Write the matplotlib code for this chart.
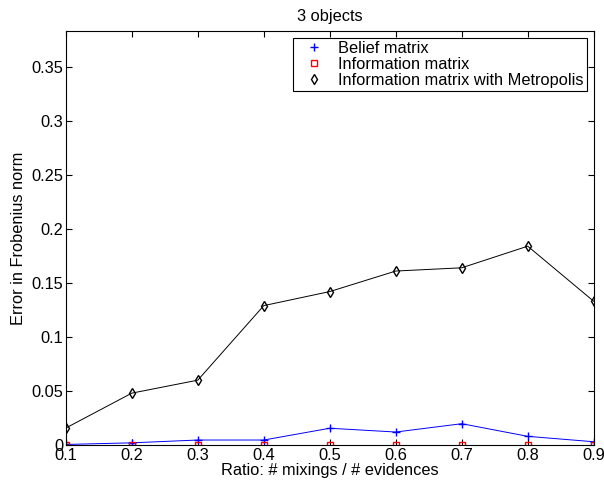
import matplotlib.pyplot as plt
from matplotlib.lines import Line2D

ratio = [0.1, 0.2, 0.3, 0.4, 0.5, 0.6, 0.7, 0.8, 0.9]
belief = [0.0005, 0.002, 0.0046, 0.0046, 0.0155, 0.012, 0.0197, 0.008, 0.003]
information = [0, 0, 0, 0, 0, 0, 0, 0, 0]
metropolis = [0.0157, 0.048, 0.060, 0.129, 0.142, 0.161, 0.164, 0.184, 0.133]

plt.rcParams['font.family'] = ['Liberation Sans', 'DejaVu Sans']
plt.rcParams['font.size'] = 11.8

fig = plt.figure(figsize=(6.04, 4.84), dpi=100)
ax = fig.add_axes([0.109, 0.0806, 0.874, 0.855])

ax.plot(ratio, belief, color='blue', marker='+', ms=6, lw=0.7)
ax.plot(ratio, information, color='red', marker='s', ms=4.5, mfc='none', lw=0.7)
ax.plot(ratio, metropolis, color='black', marker='d', ms=5.5, mfc='none', lw=0.7)

ax.set_xlim(0.1, 0.9)
ax.set_ylim(0, 0.383)
ax.set_xticks(ratio)
ax.set_xticklabels(['0.1', '0.2', '0.3', '0.4', '0.5', '0.6', '0.7', '0.8', '0.9'])
ax.set_yticks([0, 0.05, 0.1, 0.15, 0.2, 0.25, 0.3, 0.35])
ax.set_yticklabels(['0', '0.05', '0.1', '0.15', '0.2', '0.25', '0.3', '0.35'])
ax.tick_params(direction='in', top=True, right=True, length=4, pad=2)

ax.set_title('3 objects', fontsize=11.8, pad=7)
ax.set_xlabel('Ratio: # mixings / # evidences', labelpad=0)
ax.set_ylabel('Error in Frobenius norm', labelpad=4)

handles = [
    Line2D([], [], color='blue', marker='+', ls='none', ms=6),
    Line2D([], [], color='red', marker='s', ls='none', ms=4.5, mfc='none'),
    Line2D([], [], color='black', marker='d', ls='none', ms=5.5, mfc='none'),
]
labels = ['Belief matrix', 'Information matrix', 'Information matrix with Metropolis']
leg = ax.legend(handles, labels, loc='upper right', fancybox=False, edgecolor='black',
                framealpha=1, borderpad=0.2, labelspacing=0.05, handlelength=2.2,
                handletextpad=0.4, borderaxespad=0.4)
leg.get_frame().set_linewidth(0.8)

fig.savefig('out.png', dpi=100)
